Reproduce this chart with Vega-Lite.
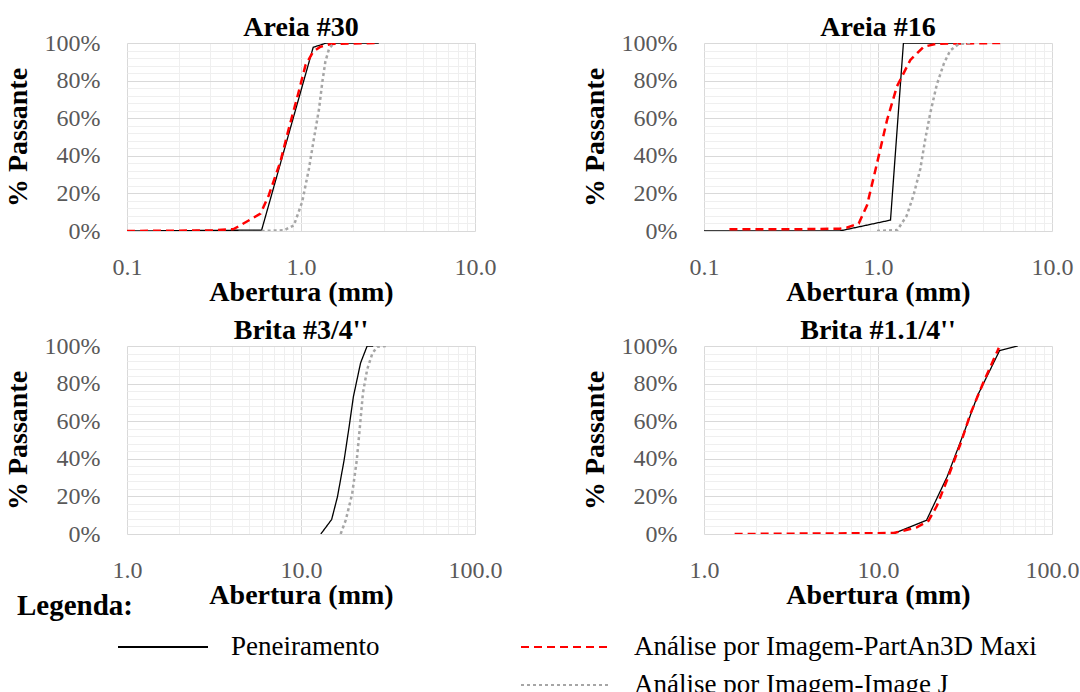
{
  "$schema": "https://vega.github.io/schema/vega-lite/v6.json",
  "background": "white",
  "padding": {"left": 4, "top": 14, "right": 0, "bottom": 0},
  "config": {
    "view": {"stroke": null},
    "font": "Liberation Serif",
    "title": {"font": "Liberation Serif", "fontSize": 28, "fontWeight": "bold", "color": "black", "offset": -11, "anchor": "middle", "frame": "group"},
    "axis": {
      "labelFont": "Liberation Serif", "labelFontSize": 24, "labelColor": "#595959",
      "titleFont": "Liberation Serif", "titleFontSize": 28, "titleFontWeight": "bold", "titleColor": "black",
      "ticks": false, "domain": false, "labelOverlap": false, "labelFlush": false, "labelBound": false,
      "gridWidth": 1
    },
    "axisX": {"labelPadding": 24, "titlePadding": -1},
    "axisY": {"labelPadding": 27, "titlePadding": 12},
    "legend": {
      "orient": "none", "legendX": -110, "legendY": 549,
      "direction": "vertical", "columns": 2,
      "titleFont": "Liberation Serif", "titleFontSize": 29, "titleFontWeight": "bold", "titleColor": "black", "titlePadding": 8,
      "labelFont": "Liberation Serif", "labelFontSize": 27, "labelColor": "black", "labelLimit": 0,
      "symbolType": "stroke", "symbolSize": 8100, "symbolStrokeWidth": 2,
      "clipHeight": 36, "rowPadding": 2, "columnPadding": 40,
      "symbolOffset": 100, "labelOffset": 22
    }
  },
  "data": {"values": [
    {"painel": "A30", "serie": "Peneiramento", "abertura": 0.1, "passante": 0},
    {"painel": "A30", "serie": "Peneiramento", "abertura": 0.594, "passante": 0.5},
    {"painel": "A30", "serie": "Peneiramento", "abertura": 1.175, "passante": 97.7},
    {"painel": "A30", "serie": "Peneiramento", "abertura": 1.4, "passante": 100},
    {"painel": "A30", "serie": "Peneiramento", "abertura": 2.8, "passante": 100},
    {"painel": "A30", "serie": "Análise por Imagem-PartAn3D Maxi", "abertura": 0.1, "passante": 0},
    {"painel": "A30", "serie": "Análise por Imagem-PartAn3D Maxi", "abertura": 0.31, "passante": 0.3},
    {"painel": "A30", "serie": "Análise por Imagem-PartAn3D Maxi", "abertura": 0.41, "passante": 1},
    {"painel": "A30", "serie": "Análise por Imagem-PartAn3D Maxi", "abertura": 0.585, "passante": 9.2},
    {"painel": "A30", "serie": "Análise por Imagem-PartAn3D Maxi", "abertura": 0.653, "passante": 19},
    {"painel": "A30", "serie": "Análise por Imagem-PartAn3D Maxi", "abertura": 0.762, "passante": 37},
    {"painel": "A30", "serie": "Análise por Imagem-PartAn3D Maxi", "abertura": 0.851, "passante": 54.5},
    {"painel": "A30", "serie": "Análise por Imagem-PartAn3D Maxi", "abertura": 0.959, "passante": 72.3},
    {"painel": "A30", "serie": "Análise por Imagem-PartAn3D Maxi", "abertura": 1.062, "passante": 88.3},
    {"painel": "A30", "serie": "Análise por Imagem-PartAn3D Maxi", "abertura": 1.175, "passante": 95.4},
    {"painel": "A30", "serie": "Análise por Imagem-PartAn3D Maxi", "abertura": 1.295, "passante": 98},
    {"painel": "A30", "serie": "Análise por Imagem-PartAn3D Maxi", "abertura": 1.48, "passante": 99.5},
    {"painel": "A30", "serie": "Análise por Imagem-PartAn3D Maxi", "abertura": 2.8, "passante": 100},
    {"painel": "A30", "serie": "Análise por Imagem-Image J", "abertura": 0.594, "passante": 0},
    {"painel": "A30", "serie": "Análise por Imagem-Image J", "abertura": 0.8, "passante": 0.4},
    {"painel": "A30", "serie": "Análise por Imagem-Image J", "abertura": 0.91, "passante": 3},
    {"painel": "A30", "serie": "Análise por Imagem-Image J", "abertura": 1.016, "passante": 15.5},
    {"painel": "A30", "serie": "Análise por Imagem-Image J", "abertura": 1.11, "passante": 33},
    {"painel": "A30", "serie": "Análise por Imagem-Image J", "abertura": 1.186, "passante": 49},
    {"painel": "A30", "serie": "Análise por Imagem-Image J", "abertura": 1.27, "passante": 65},
    {"painel": "A30", "serie": "Análise por Imagem-Image J", "abertura": 1.325, "passante": 79},
    {"painel": "A30", "serie": "Análise por Imagem-Image J", "abertura": 1.38, "passante": 90},
    {"painel": "A30", "serie": "Análise por Imagem-Image J", "abertura": 1.45, "passante": 97},
    {"painel": "A30", "serie": "Análise por Imagem-Image J", "abertura": 1.545, "passante": 100},
    {"painel": "A16", "serie": "Peneiramento", "abertura": 0.1, "passante": 0},
    {"painel": "A16", "serie": "Peneiramento", "abertura": 0.6, "passante": 0},
    {"painel": "A16", "serie": "Peneiramento", "abertura": 1.18, "passante": 5.8},
    {"painel": "A16", "serie": "Peneiramento", "abertura": 1.4, "passante": 100},
    {"painel": "A16", "serie": "Peneiramento", "abertura": 2.8, "passante": 100},
    {"painel": "A16", "serie": "Análise por Imagem-PartAn3D Maxi", "abertura": 0.14, "passante": 0.9},
    {"painel": "A16", "serie": "Análise por Imagem-PartAn3D Maxi", "abertura": 0.3, "passante": 0.9},
    {"painel": "A16", "serie": "Análise por Imagem-PartAn3D Maxi", "abertura": 0.6, "passante": 1.2},
    {"painel": "A16", "serie": "Análise por Imagem-PartAn3D Maxi", "abertura": 0.66, "passante": 1.75},
    {"painel": "A16", "serie": "Análise por Imagem-PartAn3D Maxi", "abertura": 0.775, "passante": 4},
    {"painel": "A16", "serie": "Análise por Imagem-PartAn3D Maxi", "abertura": 0.865, "passante": 13.7},
    {"painel": "A16", "serie": "Análise por Imagem-PartAn3D Maxi", "abertura": 0.987, "passante": 36},
    {"painel": "A16", "serie": "Análise por Imagem-PartAn3D Maxi", "abertura": 1.127, "passante": 59},
    {"painel": "A16", "serie": "Análise por Imagem-PartAn3D Maxi", "abertura": 1.286, "passante": 77},
    {"painel": "A16", "serie": "Análise por Imagem-PartAn3D Maxi", "abertura": 1.535, "passante": 91},
    {"painel": "A16", "serie": "Análise por Imagem-PartAn3D Maxi", "abertura": 1.83, "passante": 98},
    {"painel": "A16", "serie": "Análise por Imagem-PartAn3D Maxi", "abertura": 2.18, "passante": 99.6},
    {"painel": "A16", "serie": "Análise por Imagem-PartAn3D Maxi", "abertura": 5.05, "passante": 100},
    {"painel": "A16", "serie": "Análise por Imagem-Image J", "abertura": 0.987, "passante": 0},
    {"painel": "A16", "serie": "Análise por Imagem-Image J", "abertura": 1.29, "passante": 0.5},
    {"painel": "A16", "serie": "Análise por Imagem-Image J", "abertura": 1.46, "passante": 8},
    {"painel": "A16", "serie": "Análise por Imagem-Image J", "abertura": 1.6, "passante": 19},
    {"painel": "A16", "serie": "Análise por Imagem-Image J", "abertura": 1.75, "passante": 33},
    {"painel": "A16", "serie": "Análise por Imagem-Image J", "abertura": 1.87, "passante": 49},
    {"painel": "A16", "serie": "Análise por Imagem-Image J", "abertura": 2.0, "passante": 63},
    {"painel": "A16", "serie": "Análise por Imagem-Image J", "abertura": 2.18, "passante": 78},
    {"painel": "A16", "serie": "Análise por Imagem-Image J", "abertura": 2.39, "passante": 89},
    {"painel": "A16", "serie": "Análise por Imagem-Image J", "abertura": 2.6, "passante": 96},
    {"painel": "A16", "serie": "Análise por Imagem-Image J", "abertura": 2.91, "passante": 99.5},
    {"painel": "A16", "serie": "Análise por Imagem-Image J", "abertura": 3.4, "passante": 100},
    {"painel": "B34", "serie": "Peneiramento", "abertura": 13.0, "passante": 0},
    {"painel": "B34", "serie": "Peneiramento", "abertura": 15.0, "passante": 7.7},
    {"painel": "B34", "serie": "Peneiramento", "abertura": 16.2, "passante": 19.8},
    {"painel": "B34", "serie": "Peneiramento", "abertura": 17.7, "passante": 39.4},
    {"painel": "B34", "serie": "Peneiramento", "abertura": 18.9, "passante": 57},
    {"painel": "B34", "serie": "Peneiramento", "abertura": 20.0, "passante": 73},
    {"painel": "B34", "serie": "Peneiramento", "abertura": 22.0, "passante": 91},
    {"painel": "B34", "serie": "Peneiramento", "abertura": 24.0, "passante": 100},
    {"painel": "B34", "serie": "Peneiramento", "abertura": 26.0, "passante": 100},
    {"painel": "B34", "serie": "Análise por Imagem-Image J", "abertura": 16.9, "passante": 0},
    {"painel": "B34", "serie": "Análise por Imagem-Image J", "abertura": 18.1, "passante": 7.5},
    {"painel": "B34", "serie": "Análise por Imagem-Image J", "abertura": 19.7, "passante": 21.6},
    {"painel": "B34", "serie": "Análise por Imagem-Image J", "abertura": 20.9, "passante": 39},
    {"painel": "B34", "serie": "Análise por Imagem-Image J", "abertura": 21.8, "passante": 57},
    {"painel": "B34", "serie": "Análise por Imagem-Image J", "abertura": 22.7, "passante": 75},
    {"painel": "B34", "serie": "Análise por Imagem-Image J", "abertura": 24.0, "passante": 87.5},
    {"painel": "B34", "serie": "Análise por Imagem-Image J", "abertura": 25.7, "passante": 96},
    {"painel": "B34", "serie": "Análise por Imagem-Image J", "abertura": 27.4, "passante": 99.6},
    {"painel": "B34", "serie": "Análise por Imagem-Image J", "abertura": 31.3, "passante": 100},
    {"painel": "B114", "serie": "Peneiramento", "abertura": 12.5, "passante": 0.5},
    {"painel": "B114", "serie": "Peneiramento", "abertura": 19.0, "passante": 7.3},
    {"painel": "B114", "serie": "Peneiramento", "abertura": 25.0, "passante": 30.6},
    {"painel": "B114", "serie": "Peneiramento", "abertura": 31.5, "passante": 55},
    {"painel": "B114", "serie": "Peneiramento", "abertura": 37.5, "passante": 74},
    {"painel": "B114", "serie": "Peneiramento", "abertura": 50.0, "passante": 97.6},
    {"painel": "B114", "serie": "Peneiramento", "abertura": 63.5, "passante": 100},
    {"painel": "B114", "serie": "Análise por Imagem-PartAn3D Maxi", "abertura": 1.5, "passante": 0},
    {"painel": "B114", "serie": "Análise por Imagem-PartAn3D Maxi", "abertura": 12.3, "passante": 0.5},
    {"painel": "B114", "serie": "Análise por Imagem-PartAn3D Maxi", "abertura": 16.7, "passante": 3.5},
    {"painel": "B114", "serie": "Análise por Imagem-PartAn3D Maxi", "abertura": 19.5, "passante": 7},
    {"painel": "B114", "serie": "Análise por Imagem-PartAn3D Maxi", "abertura": 21.8, "passante": 15},
    {"painel": "B114", "serie": "Análise por Imagem-PartAn3D Maxi", "abertura": 25.0, "passante": 29},
    {"painel": "B114", "serie": "Análise por Imagem-PartAn3D Maxi", "abertura": 29.8, "passante": 48},
    {"painel": "B114", "serie": "Análise por Imagem-PartAn3D Maxi", "abertura": 34.0, "passante": 64},
    {"painel": "B114", "serie": "Análise por Imagem-PartAn3D Maxi", "abertura": 40.5, "passante": 81},
    {"painel": "B114", "serie": "Análise por Imagem-PartAn3D Maxi", "abertura": 48.4, "passante": 97},
    {"painel": "B114", "serie": "Análise por Imagem-PartAn3D Maxi", "abertura": 49.5, "passante": 99}
  ]},
  "resolve": {"scale": {"color": "shared", "strokeDash": "shared"}, "legend": {"color": "shared", "strokeDash": "shared"}},
  "spacing": {"row": 115, "column": 229},
  "bounds": "flush",
  "columns": 2,
  "concat": [
    {
      "width": 348, "height": 188,
      "title": "Areia #30",
      "transform": [{"filter": "datum.painel == 'A30'"}],
      "mark": {"type": "line", "clip": true},
      "encoding": {
        "x": {"field": "abertura", "type": "quantitative", "scale": {"type": "log", "domain": [0.1, 10], "nice": false},
          "axis": {"title": "Abertura (mm)", "values": [0.1,0.2,0.3,0.4,0.5,0.6,0.7,0.8,0.9,1,2,3,4,5,6,7,8,9,10],
            "labelExpr": "(datum.value == 0.1 || datum.value == 1 || datum.value == 10) ? format(datum.value, '.1f') : ''",
            "gridColor": {"condition": {"test": "datum.value == 0.1 || datum.value == 1 || datum.value == 10", "value": "#d9d9d9"}, "value": "#efefef"}}},
        "y": {"field": "passante", "type": "quantitative", "scale": {"domain": [0, 100], "nice": false},
          "axis": {"title": "% Passante", "values": [0,4,8,12,16,20,24,28,32,36,40,44,48,52,56,60,64,68,72,76,80,84,88,92,96,100],
            "labelExpr": "datum.value % 20 == 0 ? datum.value + '%' : ''",
            "gridColor": {"condition": {"test": "datum.value % 20 == 0", "value": "#d9d9d9"}, "value": "#efefef"}}},
        "color": {"field": "serie", "type": "nominal", "title": "Legenda:",
          "scale": {"domain": ["Peneiramento", " ", "Análise por Imagem-PartAn3D Maxi", "Análise por Imagem-Image J"], "range": ["black", "rgba(0,0,0,0)", "#ff0000", "#a6a6a6"]}},
        "strokeDash": {"field": "serie", "type": "nominal", "title": "Legenda:",
          "scale": {"domain": ["Peneiramento", " ", "Análise por Imagem-PartAn3D Maxi", "Análise por Imagem-Image J"], "range": [[1, 0], [1, 0], [8, 5], [3, 3]]}},
        "strokeWidth": {"condition": {"test": "datum.serie == 'Peneiramento'", "value": 1.3}, "value": 2.5}
      }
    },
    {
      "width": 348, "height": 188,
      "title": "Areia #16",
      "transform": [{"filter": "datum.painel == 'A16'"}],
      "mark": {"type": "line", "clip": true},
      "encoding": {
        "x": {"field": "abertura", "type": "quantitative", "scale": {"type": "log", "domain": [0.1, 10], "nice": false},
          "axis": {"title": "Abertura (mm)", "values": [0.1,0.2,0.3,0.4,0.5,0.6,0.7,0.8,0.9,1,2,3,4,5,6,7,8,9,10],
            "labelExpr": "(datum.value == 0.1 || datum.value == 1 || datum.value == 10) ? format(datum.value, '.1f') : ''",
            "gridColor": {"condition": {"test": "datum.value == 0.1 || datum.value == 1 || datum.value == 10", "value": "#d9d9d9"}, "value": "#efefef"}}},
        "y": {"field": "passante", "type": "quantitative", "scale": {"domain": [0, 100], "nice": false},
          "axis": {"title": "% Passante", "values": [0,4,8,12,16,20,24,28,32,36,40,44,48,52,56,60,64,68,72,76,80,84,88,92,96,100],
            "labelExpr": "datum.value % 20 == 0 ? datum.value + '%' : ''",
            "gridColor": {"condition": {"test": "datum.value % 20 == 0", "value": "#d9d9d9"}, "value": "#efefef"}}},
        "color": {"field": "serie", "type": "nominal", "title": "Legenda:",
          "scale": {"domain": ["Peneiramento", " ", "Análise por Imagem-PartAn3D Maxi", "Análise por Imagem-Image J"], "range": ["black", "rgba(0,0,0,0)", "#ff0000", "#a6a6a6"]}},
        "strokeDash": {"field": "serie", "type": "nominal", "title": "Legenda:",
          "scale": {"domain": ["Peneiramento", " ", "Análise por Imagem-PartAn3D Maxi", "Análise por Imagem-Image J"], "range": [[1, 0], [1, 0], [8, 5], [3, 3]]}},
        "strokeWidth": {"condition": {"test": "datum.serie == 'Peneiramento'", "value": 1.3}, "value": 2.5}
      }
    },
    {
      "width": 348, "height": 188,
      "title": "Brita #3/4''",
      "transform": [{"filter": "datum.painel == 'B34'"}],
      "mark": {"type": "line", "clip": true},
      "encoding": {
        "x": {"field": "abertura", "type": "quantitative", "scale": {"type": "log", "domain": [1, 100], "nice": false},
          "axis": {"title": "Abertura (mm)", "values": [1,2,3,4,5,6,7,8,9,10,20,30,40,50,60,70,80,90,100],
            "labelExpr": "(datum.value == 1 || datum.value == 10 || datum.value == 100) ? format(datum.value, '.1f') : ''",
            "gridColor": {"condition": {"test": "datum.value == 1 || datum.value == 10 || datum.value == 100", "value": "#d9d9d9"}, "value": "#efefef"}}},
        "y": {"field": "passante", "type": "quantitative", "scale": {"domain": [0, 100], "nice": false},
          "axis": {"title": "% Passante", "values": [0,4,8,12,16,20,24,28,32,36,40,44,48,52,56,60,64,68,72,76,80,84,88,92,96,100],
            "labelExpr": "datum.value % 20 == 0 ? datum.value + '%' : ''",
            "gridColor": {"condition": {"test": "datum.value % 20 == 0", "value": "#d9d9d9"}, "value": "#efefef"}}},
        "color": {"field": "serie", "type": "nominal", "title": "Legenda:",
          "scale": {"domain": ["Peneiramento", " ", "Análise por Imagem-PartAn3D Maxi", "Análise por Imagem-Image J"], "range": ["black", "rgba(0,0,0,0)", "#ff0000", "#a6a6a6"]}},
        "strokeDash": {"field": "serie", "type": "nominal", "title": "Legenda:",
          "scale": {"domain": ["Peneiramento", " ", "Análise por Imagem-PartAn3D Maxi", "Análise por Imagem-Image J"], "range": [[1, 0], [1, 0], [8, 5], [3, 3]]}},
        "strokeWidth": {"condition": {"test": "datum.serie == 'Peneiramento'", "value": 1.3}, "value": 2.5}
      }
    },
    {
      "width": 348, "height": 188,
      "title": "Brita #1.1/4''",
      "transform": [{"filter": "datum.painel == 'B114'"}],
      "mark": {"type": "line", "clip": true},
      "encoding": {
        "x": {"field": "abertura", "type": "quantitative", "scale": {"type": "log", "domain": [1, 100], "nice": false},
          "axis": {"title": "Abertura (mm)", "values": [1,2,3,4,5,6,7,8,9,10,20,30,40,50,60,70,80,90,100],
            "labelExpr": "(datum.value == 1 || datum.value == 10 || datum.value == 100) ? format(datum.value, '.1f') : ''",
            "gridColor": {"condition": {"test": "datum.value == 1 || datum.value == 10 || datum.value == 100", "value": "#d9d9d9"}, "value": "#efefef"}}},
        "y": {"field": "passante", "type": "quantitative", "scale": {"domain": [0, 100], "nice": false},
          "axis": {"title": "% Passante", "values": [0,4,8,12,16,20,24,28,32,36,40,44,48,52,56,60,64,68,72,76,80,84,88,92,96,100],
            "labelExpr": "datum.value % 20 == 0 ? datum.value + '%' : ''",
            "gridColor": {"condition": {"test": "datum.value % 20 == 0", "value": "#d9d9d9"}, "value": "#efefef"}}},
        "color": {"field": "serie", "type": "nominal", "title": "Legenda:",
          "scale": {"domain": ["Peneiramento", " ", "Análise por Imagem-PartAn3D Maxi", "Análise por Imagem-Image J"], "range": ["black", "rgba(0,0,0,0)", "#ff0000", "#a6a6a6"]}},
        "strokeDash": {"field": "serie", "type": "nominal", "title": "Legenda:",
          "scale": {"domain": ["Peneiramento", " ", "Análise por Imagem-PartAn3D Maxi", "Análise por Imagem-Image J"], "range": [[1, 0], [1, 0], [8, 5], [3, 3]]}},
        "strokeWidth": {"condition": {"test": "datum.serie == 'Peneiramento'", "value": 1.3}, "value": 2.5}
      }
    }
  ]
}
